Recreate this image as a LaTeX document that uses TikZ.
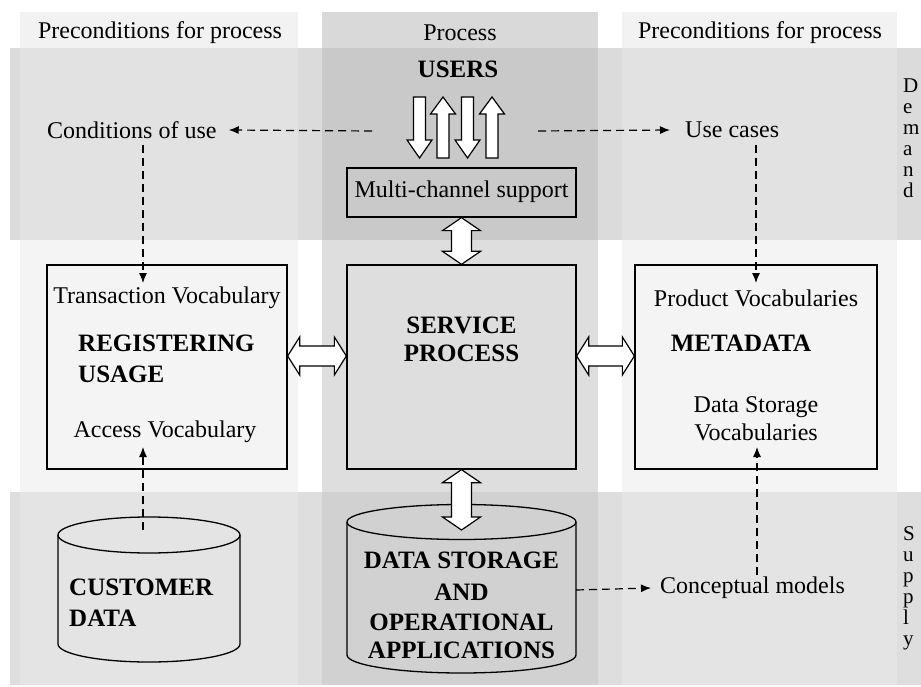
\documentclass[tikz,border=0pt]{standalone}
\usepackage{fontspec}
\setmainfont{Liberation Serif}
\usetikzlibrary{arrows.meta,calc}
\definecolor{hdside}{gray}{0.95}
\definecolor{hdmid}{gray}{0.85}
\definecolor{topband}{gray}{0.86}
\definecolor{topside}{gray}{0.885}
\definecolor{topmid}{gray}{0.79}
\definecolor{midside}{gray}{0.955}
\definecolor{midmid}{gray}{0.87}
\definecolor{botband}{gray}{0.87}
\definecolor{botside}{gray}{0.895}
\definecolor{botmid}{gray}{0.82}
\newcommand\harrowdbl[2]{\draw[blockarrow] let \p1=(#1), \p2=(#2) in (\p1) -- (\x1+12pt,\y1+19pt) -- (\x1+12pt,\y1+10pt) -- (\x2-12pt,\y2+10pt) -- (\x2-12pt,\y2+19pt) -- (\p2) -- (\x2-12pt,\y2-19pt) -- (\x2-12pt,\y2-10pt) -- (\x1+12pt,\y1-10pt) -- (\x1+12pt,\y1-19pt) -- cycle;}
\newcommand\varrowdbl[2]{\draw[blockarrow] let \p1=(#1), \p2=(#2) in (\p1) -- (\x1+19pt,\y1-13pt) -- (\x1+10pt,\y1-13pt) -- (\x2+10pt,\y2+13pt) -- (\x2+19pt,\y2+13pt) -- (\p2) -- (\x2-19pt,\y2+13pt) -- (\x2-10pt,\y2+13pt) -- (\x1-10pt,\y1-13pt) -- (\x1-19pt,\y1-13pt) -- cycle;}
\newcommand\downblk[1]{\draw[blockarrow] (#1-6,97) -- (#1+6,97) -- (#1+6,140) -- (#1+12.5,140) -- (#1,158) -- (#1-12.5,140) -- (#1-6,140) -- cycle;}
\newcommand\upblk[1]{\draw[blockarrow] (#1-6,158) -- (#1+6,158) -- (#1+6,114) -- (#1+12.5,114) -- (#1,97) -- (#1-12.5,114) -- (#1-6,114) -- cycle;}
\begin{document}
\begin{tikzpicture}[x=1pt,y=-1pt,
  txt/.style={font=\fontsize{24}{26}\selectfont, inner sep=0pt},
  btxt/.style={font=\fontsize{25}{30}\selectfont\bfseries, inner sep=0pt},
  sidetxt/.style={font=\fontsize{21}{21}\selectfont, inner sep=0pt, align=left, anchor=north west},
  box/.style={draw, line width=1.3pt, inner sep=0pt},
  cyl/.style={line width=1.3pt},
  dasharrow/.style={line width=1.2pt, dash pattern=on 8pt off 5pt, -{Latex[length=10pt,width=8pt]}},
  blockarrow/.style={draw, line width=1.2pt, fill=white, line join=miter},
]
\useasboundingbox (0,0) rectangle (921,687);
\fill[white] (0,0) rectangle (921,687);
% header
\fill[hdside] (20,12) rectangle (298,48);
\fill[hdmid] (322,12) rectangle (598,48);
\fill[hdside] (622,12) rectangle (897,48);
% top band
\fill[topband] (10,48) rectangle (921,240);
\fill[topside] (20,48) rectangle (298,240);
\fill[topmid] (322,48) rectangle (598,240);
\fill[topside] (622,48) rectangle (897,240);
% middle band
\fill[midside] (20,240) rectangle (298,492);
\fill[midmid] (322,240) rectangle (598,492);
\fill[midside] (622,240) rectangle (897,492);
% bottom band
\fill[botband] (10,492) rectangle (921,685);
\fill[botside] (20,492) rectangle (298,685);
\fill[botmid] (322,492) rectangle (598,685);
\fill[botside] (622,492) rectangle (897,685);

% headers
\node[txt] (h1) at (160,33) {Preconditions for process};
\node[txt] (h2) at (460,33) {Process};
\node[txt] (h3) at (760,33) {Preconditions for process};

% users
\node[btxt] (users) at (458,69) {USERS};
\downblk{419.5}
\upblk{443}
\downblk{467.5}
\upblk{492}

% boxes
\node[box, minimum width=229pt, minimum height=49pt] (mc) at (461.5,192.5) {};
\node[txt] (mctxt) at (461.5,192) {Multi-channel support};
\node[box, minimum width=240pt, minimum height=204pt] (lbox) at (167,367) {};
\node[box, minimum width=229pt, minimum height=204pt] (sbox) at (461.5,367) {};
\node[box, minimum width=242pt, minimum height=204pt] (rbox) at (756,367) {};

% left box text
\node[txt] (tv) at (167,298) {Transaction Vocabulary};
\node[btxt, anchor=west] (reg1) at (78,343) {REGISTERING};
\node[btxt, anchor=west] (reg2) at (78,374) {USAGE};
\node[txt] (av) at (165,432) {Access Vocabulary};
% service text
\node[btxt] (sv1) at (461.5,325) {SERVICE};
\node[btxt] (sv2) at (461.5,353) {PROCESS};
% right box text
\node[txt] (pv) at (756,298) {Product Vocabularies};
\node[btxt] (md) at (741,343) {METADATA};
\node[txt] (ds1) at (756,407) {Data Storage};
\node[txt] (ds2) at (756,432) {Vocabularies};

% top labels
\node[txt, anchor=west] (cond) at (47,130) {Conditions of use};
\node[txt, anchor=west] (usec) at (685,130) {Use cases};
\node[txt, anchor=west] (cm) at (660,588) {Conceptual models};

% cylinders
\draw[cyl] (58,535) -- (58,644) arc[start angle=180, end angle=360, x radius=91pt, y radius=18pt] -- (240,535);
\draw[cyl] (149,535) ellipse [x radius=91pt, y radius=18pt];
\node[btxt, anchor=west] (cu1) at (69,587) {CUSTOMER};
\node[btxt, anchor=west] (cu2) at (69,618) {DATA};
\draw[cyl] (347,522) -- (347,655) arc[start angle=180, end angle=360, x radius=114.5pt, y radius=18pt] -- (576,522);
\draw[cyl] (461.5,522) ellipse [x radius=114.5pt, y radius=17.5pt];
\node[btxt] (dsa1) at (461.5,560) {DATA STORAGE};
\node[btxt] (dsa2) at (461.5,592) {AND};
\node[btxt] (dsa3) at (461.5,622) {OPERATIONAL};
\node[btxt] (dsa4) at (461.5,650) {APPLICATIONS};

% side letters (text running off the right edge)
\node[sidetxt] (dem) at (903,79) {D\\e\\m\\a\\n\\d};
\node[sidetxt] (sup) at (903,526) {S\\u\\p\\p\\l\\y};

% coordinates
\coordinate (ul) at (372,131);
\coordinate (ur) at (538,131);
\coordinate (ls) at (143,145);
\coordinate (lt) at (143,283);
\coordinate (rs) at (756,145);
\coordinate (rt) at (756,283);
\coordinate (cs) at (143,530);
\coordinate (ct) at (143,447);
\coordinate (ms) at (757,575);
\coordinate (mt) at (757,447);
\coordinate (dsr) at (576,590);
\coordinate (dstop) at (461.5,530);

% dashed connectors
\draw[dasharrow] (ul) -- ([xshift=12pt]cond.east);
\draw[dasharrow] (ur) -- ([xshift=-15pt]usec.west);
\draw[dasharrow] (ls) -- (lt);
\draw[dasharrow] (rs) -- (rt);
\draw[dasharrow] (cs) -- (ct);
\draw[dasharrow] (ms) -- (mt);
\draw[dasharrow] (dsr) -- ([xshift=-9pt]cm.west);

% block double arrows
\varrowdbl{mc.south}{sbox.north}
\varrowdbl{sbox.south}{dstop}
\harrowdbl{$(lbox.east)+(0,-11)$}{$(sbox.west)+(0,-11)$}
\harrowdbl{$(sbox.east)+(0,-11)$}{$(rbox.west)+(0,-11)$}
\end{tikzpicture}
\end{document}
